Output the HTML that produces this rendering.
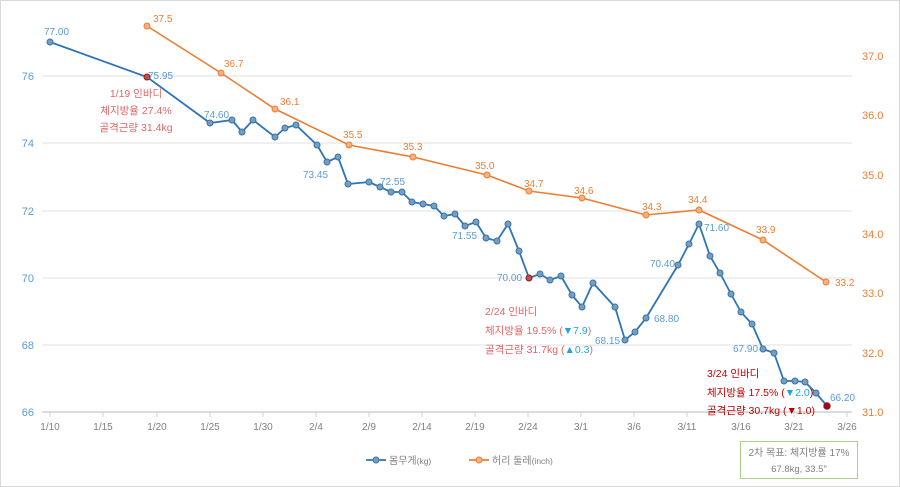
<!DOCTYPE html>
<html><head><meta charset="utf-8"><style>
body{margin:0;background:#fff;}
svg{display:block;font-family:"Liberation Sans","Noto Sans CJK KR",sans-serif;}
</style></head><body>
<svg width="900" height="487" viewBox="0 0 900 487">
<rect x="0.5" y="0.5" width="899" height="486" fill="#fff" stroke="#d9d9d9"/>
<g stroke="#e0e0e0" stroke-width="1">
<line x1="42" y1="76" x2="852" y2="76"/><line x1="42" y1="143" x2="852" y2="143"/>
<line x1="42" y1="211" x2="852" y2="211"/><line x1="42" y1="278" x2="852" y2="278"/>
<line x1="42" y1="345" x2="852" y2="345"/>
</g>
<line x1="42" y1="412" x2="852" y2="412" stroke="#d0d0d0" stroke-width="1.5"/>
<g stroke="#d0d0d0"><line x1="50" y1="412" x2="50" y2="417"/><line x1="103" y1="412" x2="103" y2="417"/><line x1="157" y1="412" x2="157" y2="417"/><line x1="210" y1="412" x2="210" y2="417"/><line x1="263" y1="412" x2="263" y2="417"/><line x1="316" y1="412" x2="316" y2="417"/><line x1="369" y1="412" x2="369" y2="417"/><line x1="422" y1="412" x2="422" y2="417"/><line x1="475" y1="412" x2="475" y2="417"/><line x1="528" y1="412" x2="528" y2="417"/><line x1="581" y1="412" x2="581" y2="417"/><line x1="634" y1="412" x2="634" y2="417"/><line x1="687" y1="412" x2="687" y2="417"/><line x1="741" y1="412" x2="741" y2="417"/><line x1="794" y1="412" x2="794" y2="417"/><line x1="847" y1="412" x2="847" y2="417"/></g>
<g font-size="10" fill="#7f7f7f" text-anchor="middle">
<text x="50" y="430">1/10</text><text x="103" y="430">1/15</text><text x="157" y="430">1/20</text><text x="210" y="430">1/25</text><text x="263" y="430">1/30</text><text x="316" y="430">2/4</text><text x="369" y="430">2/9</text><text x="422" y="430">2/14</text><text x="475" y="430">2/19</text><text x="528" y="430">2/24</text><text x="581" y="430">3/1</text><text x="634" y="430">3/6</text><text x="687" y="430">3/11</text><text x="741" y="430">3/16</text><text x="794" y="430">3/21</text><text x="847" y="430">3/26</text>
</g>
<g font-size="11" fill="#5b9bd5" text-anchor="end">
<text x="34" y="80">76</text><text x="34" y="147">74</text><text x="34" y="215">72</text><text x="34" y="282">70</text><text x="34" y="349">68</text><text x="34" y="416">66</text>
</g>
<g font-size="11" fill="#ed7d31" text-anchor="start">
<text x="862" y="60">37.0</text><text x="862" y="119">36.0</text><text x="862" y="179">35.0</text><text x="862" y="238">34.0</text><text x="862" y="297">33.0</text><text x="862" y="357">32.0</text><text x="862" y="416">31.0</text>
</g>
<!-- orange -->
<polyline fill="none" stroke="#ed7d31" stroke-width="1.6" points="147,26 221,73 275,109 349,145 413,157 487,175 529,191 582,198 646,215 699,210 763,240 826,282"/>
<g fill="#f4b183" stroke="#ed7d31" stroke-width="1">
<circle cx="147" cy="26" r="3"/><circle cx="221" cy="73" r="3"/><circle cx="275" cy="109" r="3"/><circle cx="349" cy="145" r="3"/><circle cx="413" cy="157" r="3"/><circle cx="487" cy="175" r="3"/><circle cx="529" cy="191" r="3"/><circle cx="582" cy="198" r="3"/><circle cx="646" cy="215" r="3"/><circle cx="699" cy="210" r="3"/><circle cx="763" cy="240" r="3"/><circle cx="826" cy="282" r="3"/>
</g>
<g font-size="10" fill="#ed7d31">
<text x="153" y="22">37.5</text><text x="224" y="67">36.7</text><text x="280" y="105">36.1</text><text x="343" y="138">35.5</text><text x="403" y="150">35.3</text><text x="475" y="169">35.0</text><text x="524" y="187">34.7</text><text x="574" y="194">34.6</text><text x="642" y="210">34.3</text><text x="688" y="203">34.4</text><text x="756" y="233">33.9</text><text x="835" y="286">33.2</text>
</g>
<!-- blue -->
<polyline fill="none" stroke="#2e75b6" stroke-width="1.8" points="50,42 147,77 210,123 232,120 242,132 253,120 275,137 285,128 296,125 317,145 327,162 338,157 348,184 369,182 380,187 391,192 402,192 412,202 423,204 434,206 444,216 455,214 465,226 476,222 486,238 497,241 508,224 519,251 529,278 540,274 550,280 561,276 572,295 582,307 593,283 615,307 625,340 635,332 646,318 678,265 689,244 699,224 710,256 720,273 731,294 741,312 752,324 763,349 774,353 784,381 795,381 805,382 816,393 827,406"/>
<g fill="#7f9cb5" stroke="#2e75b6" stroke-width="1">
<circle cx="50" cy="42" r="3"/><circle cx="210" cy="123" r="3"/><circle cx="232" cy="120" r="3"/><circle cx="242" cy="132" r="3"/><circle cx="253" cy="120" r="3"/><circle cx="275" cy="137" r="3"/><circle cx="285" cy="128" r="3"/><circle cx="296" cy="125" r="3"/><circle cx="317" cy="145" r="3"/><circle cx="327" cy="162" r="3"/><circle cx="338" cy="157" r="3"/><circle cx="348" cy="184" r="3"/><circle cx="369" cy="182" r="3"/><circle cx="380" cy="187" r="3"/><circle cx="391" cy="192" r="3"/><circle cx="402" cy="192" r="3"/><circle cx="412" cy="202" r="3"/><circle cx="423" cy="204" r="3"/><circle cx="434" cy="206" r="3"/><circle cx="444" cy="216" r="3"/><circle cx="455" cy="214" r="3"/><circle cx="465" cy="226" r="3"/><circle cx="476" cy="222" r="3"/><circle cx="486" cy="238" r="3"/><circle cx="497" cy="241" r="3"/><circle cx="508" cy="224" r="3"/><circle cx="519" cy="251" r="3"/><circle cx="540" cy="274" r="3"/><circle cx="550" cy="280" r="3"/><circle cx="561" cy="276" r="3"/><circle cx="572" cy="295" r="3"/><circle cx="582" cy="307" r="3"/><circle cx="593" cy="283" r="3"/><circle cx="615" cy="307" r="3"/><circle cx="625" cy="340" r="3"/><circle cx="635" cy="332" r="3"/><circle cx="646" cy="318" r="3"/><circle cx="678" cy="265" r="3"/><circle cx="689" cy="244" r="3"/><circle cx="699" cy="224" r="3"/><circle cx="710" cy="256" r="3"/><circle cx="720" cy="273" r="3"/><circle cx="731" cy="294" r="3"/><circle cx="741" cy="312" r="3"/><circle cx="752" cy="324" r="3"/><circle cx="763" cy="349" r="3"/><circle cx="774" cy="353" r="3"/><circle cx="784" cy="381" r="3"/><circle cx="795" cy="381" r="3"/><circle cx="805" cy="382" r="3"/><circle cx="816" cy="393" r="3"/>
</g>
<g stroke="#8b1a1a" stroke-width="1"><circle cx="147" cy="77" r="3" fill="#c0504d"/><circle cx="529" cy="278" r="3" fill="#c0504d"/><circle cx="827" cy="406" r="3.2" fill="#a50021"/></g>
<g font-size="10" fill="#5b9bd5">
<text x="44" y="35">77.00</text><text x="148" y="79">75.95</text><text x="204" y="118">74.60</text><text x="303" y="178">73.45</text><text x="380" y="185">72.55</text><text x="452" y="239">71.55</text><text x="497" y="281">70.00</text><text x="675" y="267" text-anchor="end">70.40</text><text x="704" y="231">71.60</text><text x="595" y="344">68.15</text><text x="654" y="322">68.80</text><text x="733" y="352">67.90</text><text x="830" y="401">66.20</text>
</g>
<g font-size="10.5" fill="#e06666" text-anchor="middle">
<text x="136" y="97">1/19 인바디</text><text x="136" y="114">체지방율 27.4%</text><text x="136" y="131">골격근량 31.4kg</text>
</g>
<g font-size="10.5" fill="#e06666">
<text x="485" y="315">2/24 인바디</text>
<text x="485" y="334">체지방율 19.5% (<tspan fill="#1fa6d8">▼7.9</tspan>)</text>
<text x="485" y="353">골격근량 31.7kg (<tspan fill="#1fa6d8">▲0.3</tspan>)</text>
</g>
<g font-size="10.5" fill="#c00000">
<text x="707" y="377">3/24 인바디</text>
<text x="707" y="396">체지방율 17.5% (<tspan fill="#1fa6d8">▼2.0</tspan>)</text>
<text x="707" y="414">골격근량 30.7kg (<tspan fill="#c00000">▼1.0</tspan>)</text>
</g>
<!-- legend -->
<line x1="366" y1="460" x2="386" y2="460" stroke="#2e75b6" stroke-width="1.8"/><circle cx="376" cy="460" r="3" fill="#7f9cb5" stroke="#2e75b6"/>
<text x="389" y="464" font-size="10" fill="#7f7f7f">몸무게<tspan font-size="8.5">(kg)</tspan></text>
<line x1="469" y1="460" x2="489" y2="460" stroke="#ed7d31" stroke-width="1.8"/><circle cx="479" cy="460" r="3" fill="#f4b183" stroke="#ed7d31"/>
<text x="492" y="464" font-size="10" fill="#7f7f7f">허리 둘레<tspan font-size="8.5">(inch)</tspan></text>
<rect x="740.5" y="441.5" width="117" height="37" fill="#fff" stroke="#a9d18e"/>
<text x="799" y="456" font-size="10" fill="#7f7f7f" text-anchor="middle">2차 목표: 체지방률 17%</text>
<text x="799" y="472" font-size="9.5" fill="#7f7f7f" text-anchor="middle">67.8kg, 33.5"</text>
</svg>
</body></html>
